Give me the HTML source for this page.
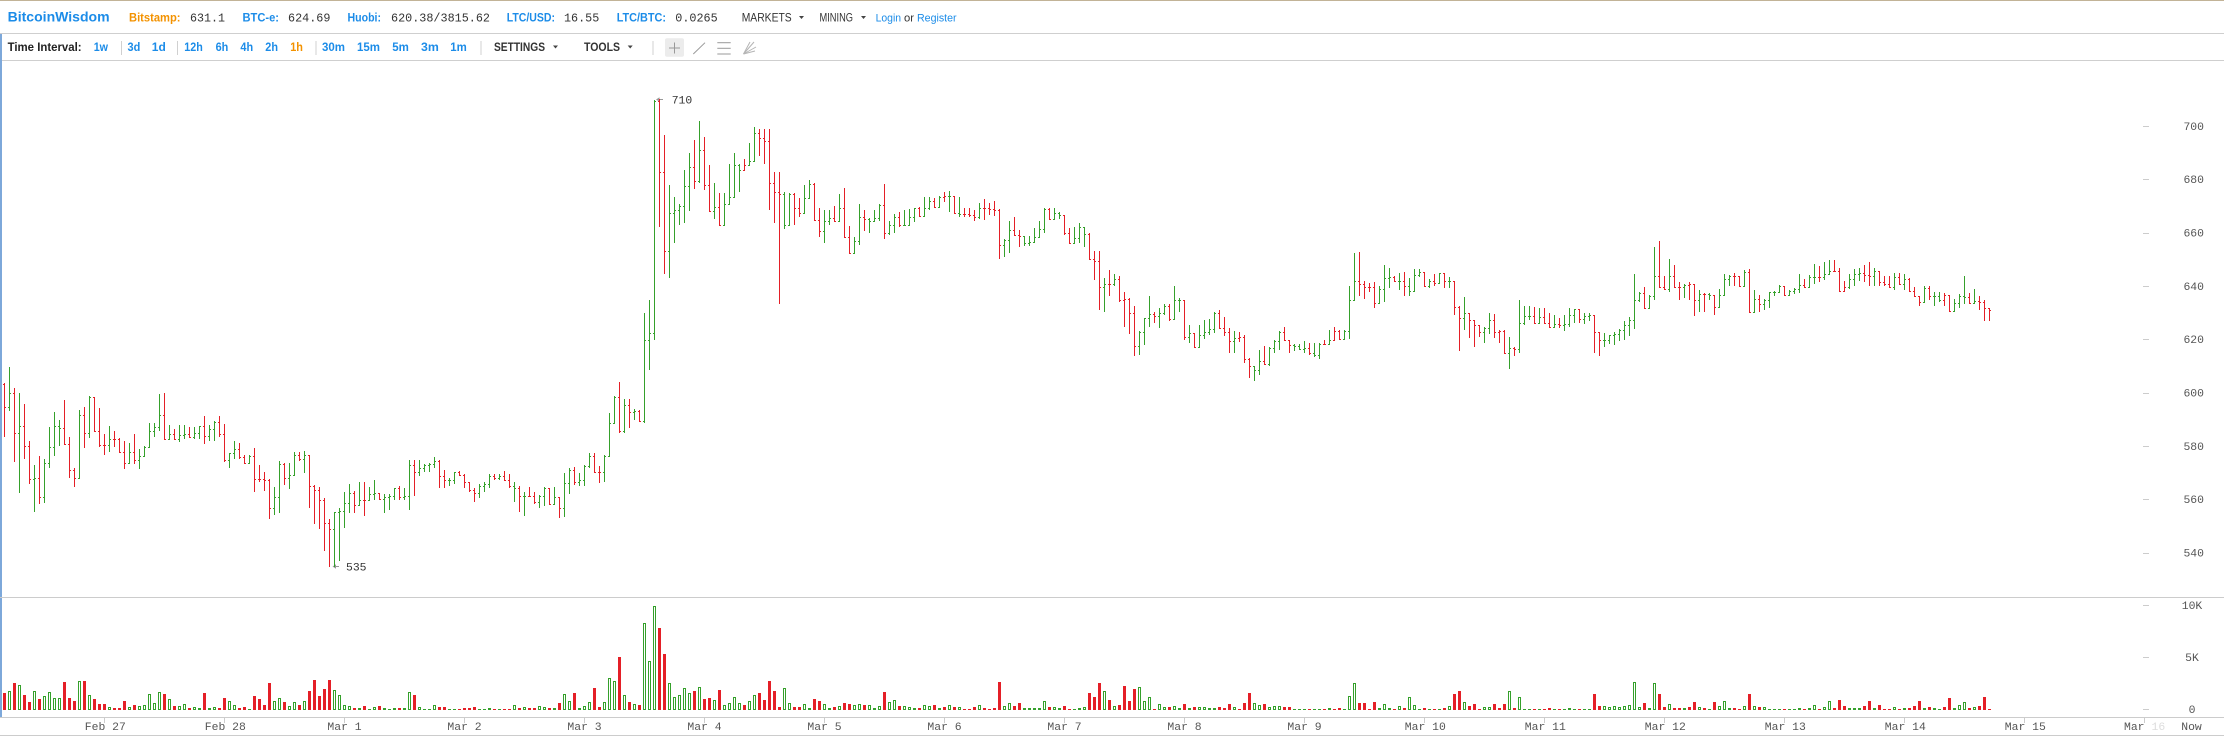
<!DOCTYPE html>
<html><head><meta charset="utf-8">
<style>
html,body{margin:0;padding:0;background:#fff;}
body{width:2224px;height:736px;overflow:hidden;position:relative;}
svg{display:block;}
#ov{position:absolute;left:0;top:0;width:2224px;height:736px;}
</style></head><body>
<svg width="2224" height="736" viewBox="0 0 2224 736" xmlns="http://www.w3.org/2000/svg" font-family="'Liberation Sans', Arial, sans-serif">
<rect width="2224" height="736" fill="#fff"/>
<rect x="0" y="0" width="2224" height="1" fill="#c2b397"/>
<rect x="0" y="33" width="2224" height="1" fill="#cfcfcf"/>
<rect x="0" y="60" width="2224" height="1" fill="#cfcfcf"/>
<rect x="0" y="34" width="2" height="684" fill="#7da8da"/>

<!-- header -->
<text x="7.6" y="21.5" font-size="14" font-weight="bold" fill="#1c8ce8" textLength="102" lengthAdjust="spacingAndGlyphs">BitcoinWisdom</text>
<text x="129" y="21.5" font-size="11.5" font-weight="bold" fill="#f39200" textLength="51.5" lengthAdjust="spacingAndGlyphs">Bitstamp:</text>
<text x="190" y="21.5" font-size="12" font-family="'Liberation Mono', monospace" fill="#333" textLength="35" lengthAdjust="spacingAndGlyphs">631.1</text>
<text x="242.5" y="21.5" font-size="11.5" font-weight="bold" fill="#1c8ce8" textLength="36.5" lengthAdjust="spacingAndGlyphs">BTC-e:</text>
<text x="288" y="21.5" font-size="12" font-family="'Liberation Mono', monospace" fill="#333" textLength="42.4" lengthAdjust="spacingAndGlyphs">624.69</text>
<text x="347.5" y="21.5" font-size="11.5" font-weight="bold" fill="#1c8ce8" textLength="33.5" lengthAdjust="spacingAndGlyphs">Huobi:</text>
<text x="391" y="21.5" font-size="12" font-family="'Liberation Mono', monospace" fill="#333" textLength="99" lengthAdjust="spacingAndGlyphs">620.38/3815.62</text>
<text x="506.7" y="21.5" font-size="11.5" font-weight="bold" fill="#1c8ce8" textLength="48.3" lengthAdjust="spacingAndGlyphs">LTC/USD:</text>
<text x="564" y="21.5" font-size="12" font-family="'Liberation Mono', monospace" fill="#333" textLength="35.3" lengthAdjust="spacingAndGlyphs">16.55</text>
<text x="616.7" y="21.5" font-size="11.5" font-weight="bold" fill="#1c8ce8" textLength="49.3" lengthAdjust="spacingAndGlyphs">LTC/BTC:</text>
<text x="675.3" y="21.5" font-size="12" font-family="'Liberation Mono', monospace" fill="#333" textLength="42.4" lengthAdjust="spacingAndGlyphs">0.0265</text>
<text x="741.7" y="21.5" font-size="11.5" fill="#333" textLength="50" lengthAdjust="spacingAndGlyphs">MARKETS</text>
<polygon points="799,16 804,16 801.5,19" fill="#444"/>
<text x="819.5" y="21.5" font-size="11.5" fill="#333" textLength="33.5" lengthAdjust="spacingAndGlyphs">MINING</text>
<polygon points="861,16 866,16 863.5,19" fill="#444"/>
<text x="875.6" y="21.5" font-size="11" fill="#1c8ce8" textLength="25.5" lengthAdjust="spacingAndGlyphs">Login</text>
<text x="904" y="21.5" font-size="11" fill="#333" textLength="10" lengthAdjust="spacingAndGlyphs">or</text>
<text x="917" y="21.5" font-size="11" fill="#1c8ce8" textLength="39.6" lengthAdjust="spacingAndGlyphs">Register</text>

<!-- toolbar -->
<text x="7.6" y="51" font-size="12" font-weight="bold" fill="#222" textLength="74" lengthAdjust="spacingAndGlyphs">Time Interval:</text>
<g font-size="12" font-weight="bold" fill="#1c8ce8">
<text x="93.7" y="51" textLength="14.3" lengthAdjust="spacingAndGlyphs">1w</text>
<text x="127.5" y="51" textLength="12.8" lengthAdjust="spacingAndGlyphs">3d</text>
<text x="151.8" y="51" textLength="14" lengthAdjust="spacingAndGlyphs">1d</text>
<text x="184.3" y="51" textLength="18.5" lengthAdjust="spacingAndGlyphs">12h</text>
<text x="215.6" y="51" textLength="12.7" lengthAdjust="spacingAndGlyphs">6h</text>
<text x="240.4" y="51" textLength="12.7" lengthAdjust="spacingAndGlyphs">4h</text>
<text x="265.3" y="51" textLength="12.7" lengthAdjust="spacingAndGlyphs">2h</text>
<text x="290.2" y="51" textLength="12.7" lengthAdjust="spacingAndGlyphs" fill="#f39200">1h</text>
<text x="322" y="51" textLength="23" lengthAdjust="spacingAndGlyphs">30m</text>
<text x="357" y="51" textLength="23" lengthAdjust="spacingAndGlyphs">15m</text>
<text x="392.2" y="51" textLength="16.6" lengthAdjust="spacingAndGlyphs">5m</text>
<text x="421" y="51" textLength="17.8" lengthAdjust="spacingAndGlyphs">3m</text>
<text x="450.3" y="51" textLength="16.5" lengthAdjust="spacingAndGlyphs">1m</text>
</g>
<g fill="#d0d0d0">
<rect x="121" y="41" width="1" height="14"/>
<rect x="177" y="41" width="1" height="14"/>
<rect x="315.5" y="41" width="1" height="14"/>
<rect x="480.5" y="41" width="1" height="14"/>
<rect x="652.5" y="41" width="1" height="14"/>
</g>
<text x="494" y="51" font-size="12" font-weight="bold" fill="#333" textLength="51" lengthAdjust="spacingAndGlyphs">SETTINGS</text>
<polygon points="553,45.5 558,45.5 555.5,48.5" fill="#444"/>
<text x="584" y="51" font-size="12" font-weight="bold" fill="#333" textLength="36" lengthAdjust="spacingAndGlyphs">TOOLS</text>
<polygon points="627.7,45.5 632.7,45.5 630.2,48.5" fill="#444"/>
<rect x="665" y="38.3" width="19" height="18.4" rx="2" fill="#ececec"/>
<g stroke="#999" stroke-width="1" fill="none">
<line x1="669" y1="48" x2="680" y2="48"/>
<line x1="674.5" y1="42.5" x2="674.5" y2="53.5"/>
<line x1="693.3" y1="54" x2="705" y2="42.7"/>
<line x1="717.3" y1="42.7" x2="730.7" y2="42.7"/>
<line x1="717.3" y1="48.3" x2="730.7" y2="48.3"/>
<line x1="717.3" y1="54" x2="730.7" y2="54"/>
</g>
<g stroke="#b5b5b5" stroke-width="1" fill="none">
<line x1="743.5" y1="54" x2="754" y2="42"/>
<line x1="743.5" y1="54" x2="756" y2="47"/>
<line x1="743.5" y1="54" x2="755" y2="51"/>
<line x1="743.5" y1="54" x2="750" y2="42"/>
</g>

<!-- chart frame -->
<rect x="0" y="597" width="2224" height="1" fill="#cccccc"/>
<rect x="0" y="717" width="2224" height="1" fill="#cccccc"/>
<rect x="0" y="735" width="2224" height="1" fill="#cccccc"/>

<!-- price axis -->
<g fill="#cccccc">
<rect x="2143" y="126" width="6" height="1"/>
<rect x="2143" y="179" width="6" height="1"/>
<rect x="2143" y="233" width="6" height="1"/>
<rect x="2143" y="286" width="6" height="1"/>
<rect x="2143" y="339" width="6" height="1"/>
<rect x="2143" y="393" width="6" height="1"/>
<rect x="2143" y="446" width="6" height="1"/>
<rect x="2143" y="499" width="6" height="1"/>
<rect x="2143" y="553" width="6" height="1"/>
<rect x="2143" y="605" width="6" height="1"/>
<rect x="2143" y="657" width="6" height="1"/>
<rect x="2143" y="709" width="6" height="1"/>
</g>
<g font-family="'Liberation Mono', monospace" font-size="11.4" fill="#555" text-anchor="middle">
<text x="2193.7" y="130">700</text>
<text x="2193.7" y="183">680</text>
<text x="2193.7" y="236.5">660</text>
<text x="2193.7" y="290">640</text>
<text x="2193.7" y="343">620</text>
<text x="2193.7" y="396.5">600</text>
<text x="2193.7" y="450">580</text>
<text x="2193.7" y="503">560</text>
<text x="2193.7" y="556.5">540</text>
<text x="2192" y="609">10K</text>
<text x="2192" y="661">5K</text>
<text x="2192" y="713">0</text>
</g>

<!-- x axis -->
<g fill="#cccccc">
<rect x="104" y="718" width="1" height="5"/><rect x="224" y="718" width="1" height="5"/>
<rect x="344" y="718" width="1" height="5"/><rect x="464" y="718" width="1" height="5"/>
<rect x="584" y="718" width="1" height="5"/><rect x="704" y="718" width="1" height="5"/>
<rect x="824" y="718" width="1" height="5"/><rect x="944" y="718" width="1" height="5"/>
<rect x="1064" y="718" width="1" height="5"/><rect x="1184" y="718" width="1" height="5"/>
<rect x="1304" y="718" width="1" height="5"/><rect x="1424" y="718" width="1" height="5"/>
<rect x="1544" y="718" width="1" height="5"/><rect x="1664" y="718" width="1" height="5"/>
<rect x="1784" y="718" width="1" height="5"/><rect x="1904" y="718" width="1" height="5"/>
<rect x="2024" y="718" width="1" height="5"/><rect x="2144" y="718" width="1" height="5"/>
</g>
<g font-family="'Liberation Mono', monospace" font-size="11.4" fill="#555" text-anchor="middle">
<text x="105.3" y="730">Feb 27</text>
<text x="225.3" y="730">Feb 28</text>
<text x="344.5" y="730">Mar 1</text>
<text x="464.5" y="730">Mar 2</text>
<text x="584.5" y="730">Mar 3</text>
<text x="704.5" y="730">Mar 4</text>
<text x="824.5" y="730">Mar 5</text>
<text x="944.5" y="730">Mar 6</text>
<text x="1064.5" y="730">Mar 7</text>
<text x="1184.5" y="730">Mar 8</text>
<text x="1304.5" y="730">Mar 9</text>
<text x="1425.3" y="730">Mar 10</text>
<text x="1545.3" y="730">Mar 11</text>
<text x="1665.3" y="730">Mar 12</text>
<text x="1785.3" y="730">Mar 13</text>
<text x="1905.3" y="730">Mar 14</text>
<text x="2025.3" y="730">Mar 15</text>
<text x="2191.5" y="730">Now</text>
</g>
<text x="2124" y="730" font-family="'Liberation Mono', monospace" font-size="11.4" fill="#555">Mar</text>
<text x="2151.5" y="730" font-family="'Liberation Mono', monospace" font-size="11.4" fill="#dddddd">16</text>

<!-- high / low markers -->
<line x1="658" y1="99.5" x2="663" y2="99.5" stroke="#999" stroke-width="1"/>
<polygon points="656,99.5 659.5,97.3 659.5,101.7" fill="#999"/>
<text x="671.7" y="103.5" font-family="'Liberation Mono', monospace" font-size="11.4" fill="#333">710</text>
<line x1="334" y1="566.5" x2="339" y2="566.5" stroke="#999" stroke-width="1"/>
<polygon points="332.5,566.5 336,564.3 336,568.7" fill="#999"/>
<text x="346" y="570.5" font-family="'Liberation Mono', monospace" font-size="11.4" fill="#333">535</text>
</svg>
<div id="ov"></div>
<script>
(function(){
var Z5="R130,290,202 G82,212,160 R145,365,280 G158,458,258 R192,358,318 R302,433,417 G375,515,415 R348,493,471 G357,488,370 G262,383,322 G215,347,258 G240,318,265 R180,313,312 R292,415,390 R385,440,414 G210,415,225 R202,325,280 G168,293,170 R170,273,272 R205,320,315 R282,344,315 G258,335,296 R274,321,296 R293,340,337 R303,388,370 G310,369,337 R282,372,360 G328,388,349 G318,352,322 G250,325,273 G250,290,262 G162,272,226 R160,298,297 G255,300,281 R268,298,297 G255,307,284 G255,298,283 R262,295,292 G262,296,280 G258,296,258 R228,312,288 G255,303,268 G243,303,245 R228,290,283 R252,365,360 G338,383,340 G303,358,327 R310,356,352 R346,372,370 G346,372,348 R325,455,418 R375,425,418 R395,452,420 R418,537,505 G440,525,472 G363,518,372 R370,435,413 G370,448,405 G335,408,345 R335,362,358 G333,398,345 R352,503,438 R435,552,450 R442,567,480 R475,632,548 R538,680,567 G517,680,515 G505,662,513 G456,565,490 G432,518,458 R453,518,495 G427,498,480 R427,528,480 G440,480,462 G420,480,460 R458,480,478 G462,518,470 G462,510,468 G445,480,445 R437,480,470";
var Z7="G1000,1028,1020 G928,1053,940 R928,1018,960 G928,968,950 G938,960,940 G935,960,938 G920,950,930 R928,1000,968 R955,1000,980 G975,993,980 G958,988,960 R956,970,966 R963,1000,985 R995,1010,1005 R1000,1035,1012 G990,1025,993 G985,1010,990 G965,1000,968 R965,978,975 G965,980,968 R957,980,978 R965,1000,993 G983,1035,1000 R995,1058,1020 "+
"G1010,1070,1020 R996,1020,1020 R1010,1040,1033 G1016,1048,1018 G996,1045,998 R998,1040,1040 G996,1038,1022 R1022,1075,1050 G962,1073,987 G950,1015,953 R946,992,983 G962,995,978 G942,995,945 G912,950,918 R912,962,958 R943,987,960 G916,985,918 G810,918,835 G768,833,770 R733,860,855 G775,862,790 R775,848,808 G800,828,806 R802,833,830 G560,836,628 G528,702,610 G25,627,28 R22,343,205 R113,462,403 G238,473,308 G268,383,300 G285,338,292 G200,333,242 G158,303,193 R125,248,228 G78,233,150 R118,252,238 R188,305,304 G233,325,294 R258,340,340 G258,340,287 G185,270,268 G158,258,187 G185,256,202 R172,198,187 G133,186,177 G93,176,108 R97,165,120 R97,185,128 R98,300,233 R206,335,255 R206,537,262 G256,350,338 G258,338,262 R258,338,295 R272,320,308 G238,308,272 G226,272,237 R233,327,327 R295,368,355 G302,385,330 G300,338,322 R290,328,328 G262,325,295 R245,372,370 R342,412,410 G368,412,378 G286,390,320 R300,353,325 G322,358,328 G302,330,322 G286,328,288 R236,375,360 G328,365,338 G310,358,320 R305,345,338 G300,338,338 G298,332,318 G296,332,296 R294,318,316 G268,312,296 G268,300,278 R270,297,293 G266,296,268 R256,280,266 G254,305,265 R266,310,308 G268,318,310 R295,318,310 R295,318,315 R300,330,320 G283,325,295 R274,326,295 R283,315,298 R278,316,300 R298,425,390 G375,418,376 G330,410,352 R320,366,365 R352,393,366 G366,392,385 G366,392,382 G346,380,368 G328,365,350 "+
"G296,358,298 R295,325,325 G295,325,308 G307,325,315 R325,365,358 R347,385,383 G345,383,372 G335,383,345 G357,393,362 R358,425,423 R405,478,430 R405,552,495 G472,558,488 R453,518,488 G463,493,475 R468,533,528 R508,595,525 R523,612,560 R542,668,643 G605,666,607 G572,640,573 G517,595,562 R558,585,568 G548,597,560 G538,565,542 R538,580,575 G493,577,528 G523,557,527 R527,628,620 G590,635,610 R610,646,645 G590,646,615 G578,624,608 G575,614,600 G558,610,560 R552,600,598 R570,617,608 R597,660,630 G605,660,622 R608,632,620 R615,686,675 R672,723,693 G695,730,703 G652,715,680 R642,690,688 G645,692,647 G628,660,630 G605,652,607 R595,628,628 R628,660,640 G637,656,642 G637,653,650 G630,660,648 R635,665,660 G635,670,665 G635,675,637 R627,640,637 G602,640,628 R596,630,604 R603,627,625 G603,627,604 G493,625,527 G408,523,480 R406,518,488 R480,525,495 R485,508,495 R482,546,535 G493,537,500 G440,533,472 G447,498,470 R466,483,480 G460,503,480 R457,517,492 G472,518,505 G450,507,465 G450,470,457 R465,495,493 G475,498,480 R462,492,485 G459,486,460 R460,497,480 G470,496,480 R479,565,545 R541,656,573 G519,602,560 R560,622,578 R577,645,590 R589,620,608 G595,635,597 G559,612,578 R562,622,608 R602,636,605 R602,662,660 G620,700,648 R645,668,650 G527,660,585 G543,590,568 G543,578,568 R545,587,585 G547,585,570 R547,585,585 R560,597,595 G565,598,588 R572,598,590 "+
"G564,605,588 G547,595,565 G549,585,550 R549,585,575 G559,587,568 G559,580,565 R565,660,608 R607,667,628 G610,646,628 G615,637,616 G607,640,612 G600,630,603 G580,628,590 G570,617,578 G463,600,528 G508,532,510 R495,548,548 G515,550,518 G393,528,468 R378,495,495 R467,501,500 G425,507,467 R438,495,495 R483,527,495 G487,522,490 R483,527,488 R488,568,527 G502,558,512 R510,558,513 G510,527,515 R515,566,545 G500,538,515 G462,518,475 G465,492,468 R460,493,467 R467,493,493 G452,493,458 R450,558,557 G502,557,525 R515,558,538 G525,552,528 G508,546,508 G505,518,506 G490,505,492 R492,516,515 G503,516,505 G498,512,500 G463,510,490 R475,497,495 G465,497,470 G437,487,470 R442,483,470 G432,478,463 G427,462,455 R427,457,455 R448,506,505 R480,500,495 G463,500,475 G450,493,462 G448,480,460 R440,481,465 R432,493,468 G448,491,455 R455,493,483 R467,492,488 R468,496,495 G460,502,470 R460,488,488 G463,503,475 R473,505,505 R494,518,517 R517,543,532 G493,527,498 R492,528,517 G507,542,518 G508,532,528 R510,542,515 R514,557,555 G524,558,535 G512,546,518 G467,537,520 R510,538,535 G499,538,530 R517,553,532 R527,580,548 R548,580,552";
var V=[1513,1508,1488,1493,1518,1535,1508,1528,1520,1510,1525,1525,1485,1525,1533,1483,1483,1518,1528,1540,1540,1548,1552,1550,1533,1548,1543,1545,1543,1515,1538,1510,1515,1528,1545,1545,1540,1550,1548,1550,1513,1550,1548,1550,1525,1533,1543,1550,1548,1553,1520,1528,1543,1488,1533,1525,1535,1545,1535,1543,1533,1508,1480,1520,1503,1480,1505,1518,1543,1545,1550,1550,1545,1553,1548,1545,1550,1553,1550,1550,1550,1510,1518,1548,1553,1553,1543,1548,1548,1553,1553,1555,1550,1550,1548,1555,1555,1550,1553,1553,1553,1553,1543,1550,
1548,1550,1550,1545,1548,1550,1550,1538,1515,1533,1513,1550,1545,1535,1500,1548,1535,1475,1483,1422,1518,1535,1540,1543,1338,1433,1295,1350,1415,1488,1523,1518,1500,1513,1508,1498,1528,1525,1530,1505,1543,1538,1523,1538,1543,1533,1518,1513,1530,1483,1508,1548,1500,1538,1548,1548,1540,1550,1528,1533,1540,1550,1548,1545,1538,1540,1543,1540,1543,1543,1550,1545,1510,1535,1530,1545,1545,1548,1550,1550,1543,1545,1543,1550,1548,1543,1548,1548,1553,1553,1548,1543,1550,1553,1550,1485,1545,1538,1545,1538,1550,1550,1550,1550,
1533,1548,1548,1550,1545,1553,1555,1550,1548,1513,1523,1488,1508,1530,1545,1543,1495,1533,1503,1498,1533,1523,1553,1540,1548,1548,1545,1550,1540,1550,1548,1548,1548,1550,1550,1548,1550,1540,1548,1553,1538,1513,1538,1543,1540,1548,1545,1545,1548,1548,1555,1555,1553,1553,1553,1553,1555,1550,1553,1550,1553,1520,1488,1538,1538,1553,1535,1550,1540,1550,1553,1545,1550,1523,1543,1555,1550,1553,1553,1553,1550,1545,1515,1508,1535,1545,1540,1553,1548,1548,1540,1550,1540,1508,1550,1523,1553,1553,1553,1553,1555,1550,1553,1553,
1553,1550,1553,1553,1553,1553,1515,1545,1545,1548,1545,1548,1545,1543,1485,1548,1538,1550,1488,1515,1548,1540,1550,1550,1550,1548,1535,1548,1550,1553,1535,1545,1533,1550,1550,1553,1545,1515,1545,1548,1548,1553,1553,1553,1553,1555,1555,1550,1553,1550,1543,1553,1548,1533,1550,1530,1545,1550,1550,1550,1545,1533,1550,1543,1553,1553,1548,1555,1550,1550,1545,1533,1550,1548,1550,1553,1548,1525,1550,1543,1535,1550,1548,1545,1523,1553];
function parse(s){return s.trim().split(/\s+/).map(function(t){var a=t.slice(1).split(',').map(Number);return {c:t.charAt(0),h:a[0],l:a[1],cl:a[2]};});}
var A=parse(Z5).map(function(b){return {c:b.c,h:340+b.h/3,l:340+b.l/3,cl:340+b.cl/3};});
var B=parse(Z7).map(function(b){return {c:b.c,h:90+b.h/2.51,l:90+b.l/2.51,cl:90+b.cl/2.51};});
var bars=A.concat(B);
var out=[];
var prev=340+133/3;
for(var k=0;k<bars.length;k++){
  var b=bars[k], x=4+5*k;
  var col=(b.c==='R')?'#e41f27':'#35a02b';
  var o=Math.round(prev), c=Math.round(b.cl);
  var hi=Math.min(Math.round(b.h),o,c), lo=Math.max(Math.round(b.l),o+1,c+1);
  out.push('<rect x="'+x+'" y="'+hi+'" width="1" height="'+Math.max(1,lo-hi)+'" fill="'+col+'"/>');
  out.push('<rect x="'+(x-1)+'" y="'+o+'" width="1" height="1" fill="'+col+'"/>');
  out.push('<rect x="'+(x+1)+'" y="'+c+'" width="1" height="1" fill="'+col+'"/>');
  prev=b.cl;
  var v=(k<V.length)?V[k]:1555;
  var h=Math.max(1,Math.round((1556-v)/2.51)), top=710-h;
  if(b.c==='R'||h<3){
    out.push('<rect x="'+(x-1)+'" y="'+top+'" width="3" height="'+h+'" fill="'+col+'"/>');
  } else {
    out.push('<rect x="'+(x-0.5)+'" y="'+(top+0.5)+'" width="2" height="'+(h-1)+'" fill="none" stroke="'+col+'" stroke-width="1"/>');
  }
}
document.getElementById('ov').innerHTML='<svg xmlns="http://www.w3.org/2000/svg" width="2224" height="736" viewBox="0 0 2224 736" shape-rendering="crispEdges">'+out.join('')+'</svg>';
})();
</script>
</body></html>
